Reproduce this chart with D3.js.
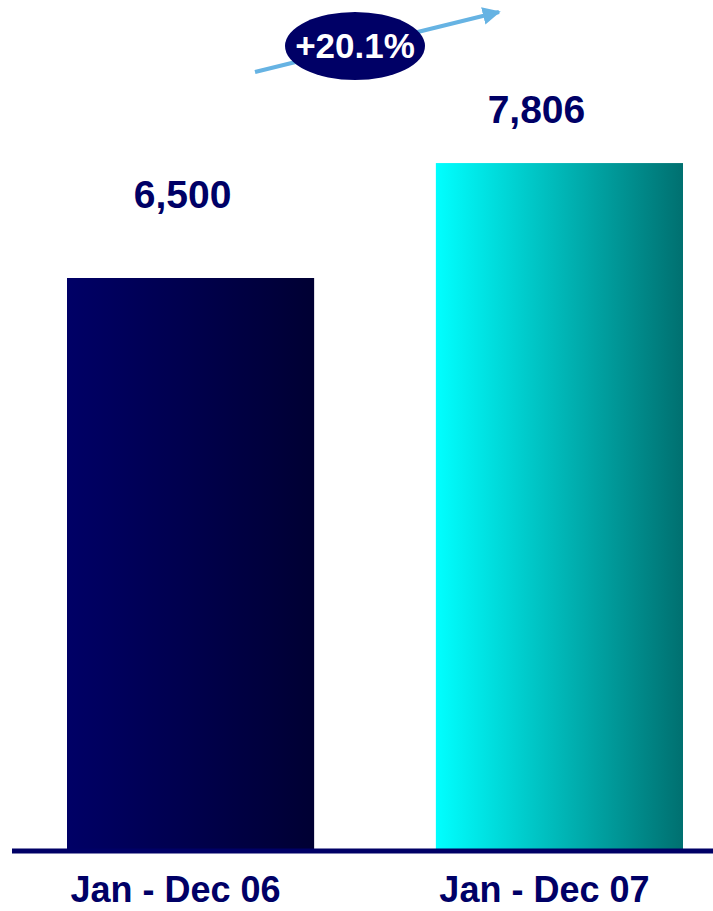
<!DOCTYPE html>
<html>
<head>
<meta charset="utf-8">
<title>Jan - Dec bars</title>
<script src="https://cdnjs.cloudflare.com/ajax/libs/d3/7.8.5/d3.min.js"></script>
<style>
  body { margin: 0; background: #fff; }
  text { font-family: "Liberation Sans", Arial, sans-serif; font-weight: bold; }
</style>
</head>
<body>
<script>
var periods = ["Jan - Dec 06", "Jan - Dec 07"];
var totals = [6500, 7806];
var growth = "+20.1%";

var w = 713, h = 911, base = 850;

var svg = d3.select("body").append("svg")
    .attr("width", w)
    .attr("height", h);

var defs = svg.append("defs");
var grads = [["#000066", "#000033"], ["#00ffff", "#007070"]];
grads.forEach(function(g, i) {
  var lg = defs.append("linearGradient").attr("id", "g" + i)
      .attr("x1", "0%").attr("x2", "100%").attr("y1", "0%").attr("y2", "0%");
  lg.append("stop").attr("offset", "0%").attr("stop-color", g[0]);
  lg.append("stop").attr("offset", "100%").attr("stop-color", g[1]);
});

var x = d3.scaleBand()
    .domain(periods)
    .range([67, 683])
    .paddingInner(0.33)
    .paddingOuter(0);

var y = d3.scaleLinear()
    .domain([0, 6500])
    .range([base, 278]);

svg.selectAll("rect.bar")
    .data(totals)
    .enter()
    .append("rect")
    .attr("class", "bar")
    .attr("x", function(d, i) { return x(periods[i]); })
    .attr("y", function(d) { return y(d); })
    .attr("width", x.bandwidth())
    .attr("height", function(d) { return base - y(d); })
    .attr("fill", function(d, i) { return "url(#g" + i + ")"; });

// baseline
svg.append("line")
    .attr("x1", 12).attr("x2", w)
    .attr("y1", base + 1).attr("y2", base + 1)
    .attr("stroke", "#000066")
    .attr("stroke-width", 5);

// value labels
var valShift = [-8, -23], valGap = [70, 40];
svg.selectAll("text.val")
    .data(totals)
    .enter()
    .append("text")
    .attr("class", "val")
    .attr("x", function(d, i) { return x(periods[i]) + x.bandwidth() / 2 + valShift[i]; })
    .attr("y", function(d, i) { return y(d) - valGap[i]; })
    .attr("text-anchor", "middle")
    .attr("font-size", 39)
    .attr("fill", "#000066")
    .text(function(d) { return d3.format(",")(d); });

// category labels
svg.selectAll("text.cat")
    .data(periods)
    .enter()
    .append("text")
    .attr("class", "cat")
    .attr("x", function(d) { return x(d) + x.bandwidth() / 2 - 15; })
    .attr("y", 902)
    .attr("text-anchor", "middle")
    .attr("font-size", 36)
    .attr("fill", "#000066")
    .text(function(d) { return d; });

// growth arrow
defs.append("marker")
    .attr("id", "arr")
    .attr("viewBox", "0 0 10 10")
    .attr("refX", 9).attr("refY", 5)
    .attr("markerWidth", 4.5).attr("markerHeight", 4.5)
    .attr("orient", "auto")
    .append("path")
    .attr("d", "M0,0 L10,5 L0,10 Z")
    .attr("fill", "#66b3e3");

svg.append("line")
    .attr("x1", 255).attr("y1", 72)
    .attr("x2", 499).attr("y2", 12)
    .attr("stroke", "#66b3e3")
    .attr("stroke-width", 4)
    .attr("marker-end", "url(#arr)");

svg.append("ellipse")
    .attr("cx", 355).attr("cy", 46)
    .attr("rx", 70).attr("ry", 34)
    .attr("fill", "#000066");

svg.append("text")
    .attr("x", 355).attr("y", 58)
    .attr("text-anchor", "middle")
    .attr("font-size", 35)
    .attr("fill", "#fff")
    .text(growth);
</script>
</body>
</html>
